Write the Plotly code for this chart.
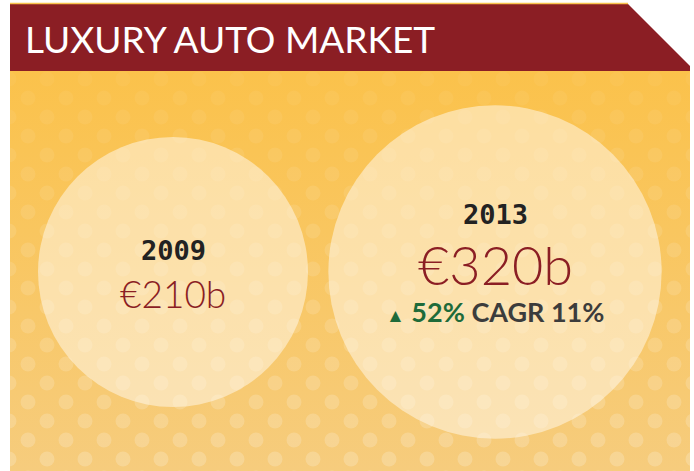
import numpy as np
import plotly.graph_objects as go

# ---- data ----
title = "LUXURY AUTO MARKET"
years = ["2009", "2013"]
market_bn = [210, 320]
growth_pct = 52
cagr_pct = 11

# ---- layout constants ----
W, H = 694, 471
PANEL_L, PANEL_R, PANEL_T, PANEL_B = 10, 690, 71, 471
centers_x = [173, 495]
center_y = 272
base_r = 135  # radius of the 2009 bubble in px

RED = "#8B1E24"
GREEN = "#1E6B3A"

fig = go.Figure()

# header band
fig.add_trace(go.Scatter(
    x=[PANEL_L, 628, PANEL_R, PANEL_R, PANEL_L, PANEL_L],
    y=[4, 4, 66, PANEL_T, PANEL_T, 4],
    mode="lines", fill="toself", fillcolor=RED, line=dict(width=0),
    hoverinfo="skip", showlegend=False))
fig.add_trace(go.Scatter(
    x=[PANEL_L, 628], y=[3.5, 3.5], mode="lines",
    line=dict(color="#F9C34E", width=1.5), hoverinfo="skip", showlegend=False))

# golden panel with vertical gradient
fig.add_trace(go.Scatter(
    x=[PANEL_L, PANEL_R, PANEL_R, PANEL_L, PANEL_L],
    y=[PANEL_T, PANEL_T, PANEL_B, PANEL_B, PANEL_T],
    mode="lines", fill="toself", line=dict(width=0),
    fillgradient=dict(type="vertical",
                      colorscale=[[0, "#F6CC7D"], [1, "#FBC24B"]]),
    hoverinfo="skip", showlegend=False))

# polka-dot decoration
dx, dy = [], []
dcol = []
for j, yy in enumerate(np.arange(79, 480, 19)):
    off = 9 if j % 2 == 0 else 28
    for xx in np.arange(off, PANEL_R + 10, 38):
        if PANEL_L - 8 <= xx <= PANEL_R + 8:
            dx.append(xx)
            dy.append(yy)
            a = 0.04 + 0.16 * (yy - PANEL_T) / (PANEL_B - PANEL_T)
            dcol.append(f"rgba(255,255,255,{a:.3f})")
fig.add_trace(go.Scatter(
    x=dx, y=dy, mode="markers",
    marker=dict(size=15, color=dcol, line=dict(width=0)),
    hoverinfo="skip", showlegend=False))

# bubbles, area proportional to value
radii = [base_r * np.sqrt(v / market_bn[0]) for v in market_bn]
fig.add_trace(go.Scatter(
    x=centers_x, y=[center_y] * len(market_bn), mode="markers",
    marker=dict(size=[2 * r for r in radii], color="rgba(255,250,238,0.74)",
                line=dict(width=0)),
    hoverinfo="skip", showlegend=False))

# clip panel edges (white strips outside)
fig.add_shape(type="rect", x0=0, x1=PANEL_L, y0=0, y1=H, fillcolor="white",
              line=dict(width=0), layer="above")
fig.add_shape(type="rect", x0=PANEL_R, x1=W, y0=0, y1=H, fillcolor="white",
              line=dict(width=0), layer="above")

# title
fig.add_annotation(x=23, y=38, xref="x", yref="y", text=title, showarrow=False,
                   xanchor="left", yanchor="middle",
                   font=dict(family="Lato", size=37, color="white", weight=400))

# labels
year_y = [250, 214]
val_y = [293, 264]
val_size = [37, 54]
for i, (yr, v) in enumerate(zip(years, market_bn)):
    fig.add_annotation(x=centers_x[i], y=year_y[i], xref="x", yref="y",
                       text=yr, showarrow=False, yanchor="middle",
                       font=dict(family="DejaVu Sans Mono", size=27,
                                 color="#222222", weight=700))
    fig.add_annotation(x=centers_x[i], y=val_y[i], xref="x", yref="y",
                       text=f"€{v}b", showarrow=False, yanchor="middle",
                       font=dict(family="Lato", size=val_size[i], color=RED,
                                 weight=300))

fig.add_annotation(
    x=centers_x[1], y=311, xref="x", yref="y", showarrow=False, yanchor="middle",
    text=(f"<span style='color:{GREEN};font-size:19px'>▲</span>"
          f"<span style='color:{GREEN}'> {growth_pct}%</span>"
          f" CAGR {cagr_pct}%"),
    font=dict(family="Lato", size=27, color="#3C3C3C", weight=700))

fig.update_layout(
    width=W, height=H, margin=dict(l=0, r=0, t=0, b=0),
    paper_bgcolor="white", plot_bgcolor="white",
    xaxis=dict(range=[0, W], visible=False, fixedrange=True),
    yaxis=dict(range=[H, 0], visible=False, fixedrange=True),
    showlegend=False)

fig.write_html("out.html", config={"displayModeBar": False},
               post_script="document.body.style.margin='0';")
